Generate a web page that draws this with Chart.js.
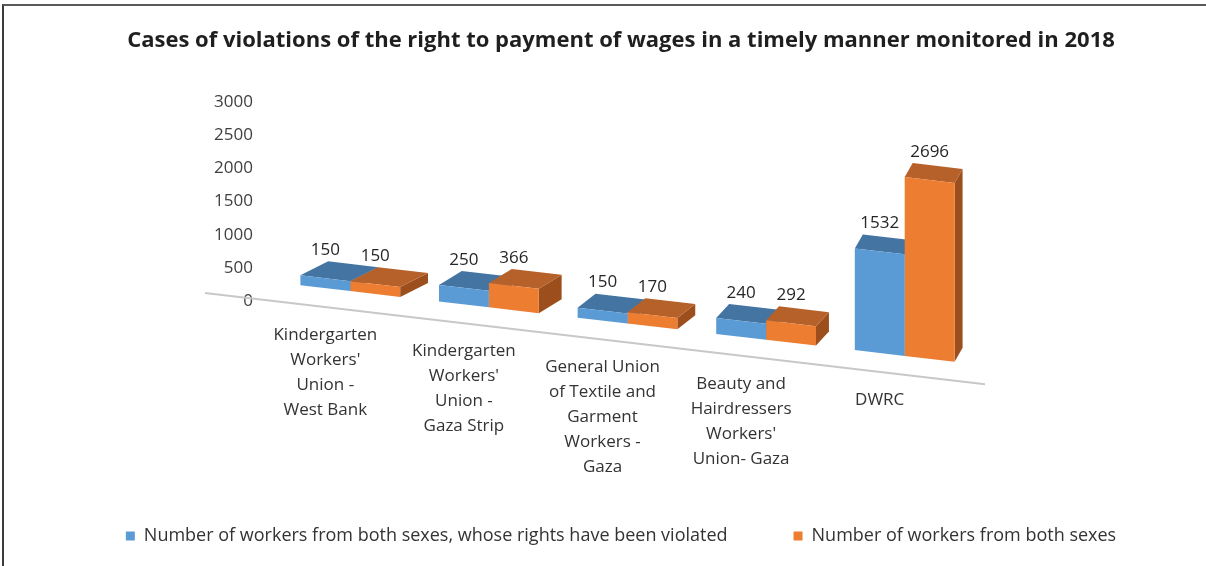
<!DOCTYPE html>
<html>
<head>
<meta charset="utf-8">
<script src="https://cdn.jsdelivr.net/npm/chart.js@4/dist/chart.umd.min.js"></script>
<style>
  body { margin: 0; background: #fff; }
  #wrap { position: relative; width: 1206px; height: 566px; }
  #frame {
    position: absolute; left: 2px; top: 4px; right: 0; bottom: 0;
    border-top: 2px solid #5a5a5a; border-left: 2px solid #3c3c3c;
  }
  #chart { position: absolute; left: 0; top: 0; }
</style>
</head>
<body>
<div id="wrap">
  <div id="frame"></div>
  <canvas id="chart" width="1206" height="566"></canvas>
</div>
<script>
const categories = [
    ['Kindergarten', "Workers'", 'Union -', 'West Bank'],
    ['Kindergarten', "Workers'", 'Union -', 'Gaza Strip'],
    ['General Union', 'of Textile and', 'Garment', 'Workers -', 'Gaza'],
    ['Beauty and', 'Hairdressers', "Workers'", 'Union- Gaza'],
    ['DWRC']
];
const violatedValues = [150, 250, 150, 240, 1532];
const totalValues = [150, 366, 170, 292, 2696];
const tickValues = [0, 500, 1000, 1500, 2000, 2500, 3000];

const seriesNames = [
    'Number of workers from both sexes, whose rights have been violated',
    'Number of workers from both sexes'
];

// fake 3d: vertical shear for the sloping floor, plus top and side faces
const SHEAR = 0.117;
const PIVOT_X = 435;
const FONT = "'Open Sans', 'DejaVu Sans', sans-serif";
const faceColors = [
    { top: '#4475a2', side: '#3a6590' },
    { top: '#b7612a', side: '#9c4f1d' }
];

function sheared(x, y) {
    return y + SHEAR * (x - PIVOT_X);
}

function depthAt(x) {
    return { dx: 26 - (x - 400) * 0.0357, dy: -14 };
}

function polygon(ctx, pts) {
    ctx.beginPath();
    ctx.moveTo(pts[0][0], pts[0][1]);
    for (let i = 1; i < pts.length; i++) ctx.lineTo(pts[i][0], pts[i][1]);
    ctx.closePath();
    ctx.fill();
}

const bars3d = {
    id: 'bars3d',
    beforeDatasetsDraw(chart) {
        const ctx = chart.ctx;
        const xScale = chart.scales.x;
        const zero = chart.scales.y.getPixelForValue(0);
        const area = chart.chartArea;

        ctx.save();
        // floor line
        const x1 = area.left - 76, x2 = area.right + 11;
        ctx.strokeStyle = '#c8c8c8';
        ctx.lineWidth = 2;
        ctx.beginPath();
        ctx.moveTo(x1, sheared(x1, zero + 19));
        ctx.lineTo(x2, sheared(x2, zero + 19));
        ctx.stroke();

        chart.data.datasets.forEach((ds, di) => {
            const meta = chart.getDatasetMeta(di);
            meta.data.forEach((bar, i) => {
                const d = depthAt(xScale.getPixelForValue(i));
                const l = bar.x - bar.width / 2;
                const r = bar.x + bar.width / 2;
                const tl = [l, sheared(l, bar.y)];
                const tr = [r, sheared(r, bar.y)];
                const br = [r, sheared(r, bar.base)];
                const back = p => [p[0] + d.dx, p[1] + d.dy];
                ctx.fillStyle = faceColors[di].side;
                polygon(ctx, [tr, back(tr), back(br), br]);
                ctx.fillStyle = faceColors[di].top;
                polygon(ctx, [tl, tr, back(tr), back(tl)]);
            });
        });
        ctx.restore();

        ctx.save();
        ctx.transform(1, SHEAR, 0, 1, 0, -SHEAR * PIVOT_X);
    },
    afterDatasetsDraw(chart) {
        const ctx = chart.ctx;
        ctx.restore();

        const xScale = chart.scales.x;
        const zero = chart.scales.y.getPixelForValue(0);

        ctx.save();
        ctx.textAlign = 'center';
        ctx.textBaseline = 'middle';

        // value labels
        ctx.fillStyle = '#262626';
        ctx.font = '17px ' + FONT;
        chart.data.datasets.forEach((ds, di) => {
            const meta = chart.getDatasetMeta(di);
            meta.data.forEach((bar, i) => {
                ctx.fillText(String(ds.data[i]), bar.x, sheared(bar.x, bar.y) - 28);
            });
        });

        // category labels under the sloping floor line
        ctx.fillStyle = '#333333';
        ctx.font = '17px ' + FONT;
        chart.data.labels.forEach((lines, i) => {
            const cx = xScale.getPixelForValue(i) - 25;
            const y0 = sheared(cx, zero + 19) + 28;
            lines.forEach((line, j) => ctx.fillText(line, cx, y0 + j * 25));
        });
        ctx.restore();
    }
};

new Chart(document.getElementById('chart'), {
    type: 'bar',
    data: {
        labels: categories,
        datasets: [
            {
                label: seriesNames[0],
                data: violatedValues,
                backgroundColor: '#5b9bd5',
                barPercentage: 1,
                categoryPercentage: 0.72,
                clip: false
            },
            {
                label: seriesNames[1],
                data: totalValues,
                backgroundColor: '#ed7d31',
                barPercentage: 1,
                categoryPercentage: 0.72,
                clip: false
            }
        ]
    },
    options: {
        responsive: false,
        devicePixelRatio: 1,
        animation: false,
        layout: { padding: { left: 36, right: 0, top: 0, bottom: 11 } },
        plugins: {
            title: {
                display: true,
                text: 'Cases of violations of the right to payment of wages in a timely manner monitored in 2018',
                color: '#1f1f1f',
                font: { family: FONT, size: 22, weight: 'bold' },
                padding: { top: 28, bottom: 47.6 }
            },
            legend: {
                position: 'bottom',
                labels: {
                    boxWidth: 9,
                    boxHeight: 9,
                    padding: 66,
                    color: '#333333',
                    font: { family: FONT, size: 18 }
                }
            },
            tooltip: { enabled: false }
        },
        scales: {
            x: {
                grid: { display: false },
                border: { display: false },
                ticks: { display: false },
                afterFit(scale) { scale.height = 160; }
            },
            y: {
                min: 0,
                max: 3000,
                afterBuildTicks(scale) {
                    scale.ticks = tickValues.map(v => ({ value: v }));
                },
                grid: { display: false, drawTicks: false },
                border: { display: false },
                ticks: {
                    padding: 28,
                    color: '#404040',
                    font: { family: FONT, size: 17 },
                    callback: v => String(v)
                },
                afterFit(scale) { scale.width = 245; }
            },
            y2: {
                position: 'right',
                display: true,
                grid: { display: false },
                border: { display: false },
                ticks: { display: false },
                afterFit(scale) { scale.width = 232; }
            }
        }
    },
    plugins: [bars3d]
});
</script>
</body>
</html>
